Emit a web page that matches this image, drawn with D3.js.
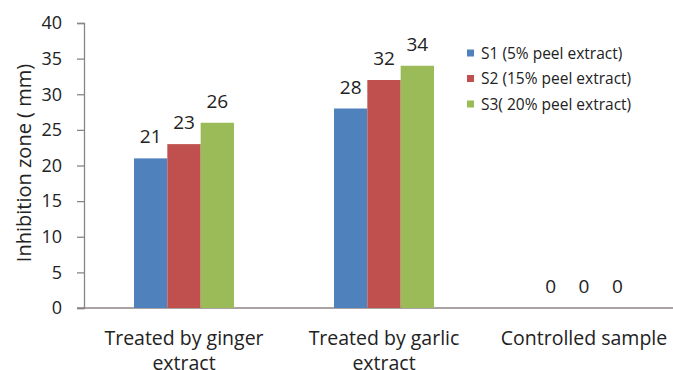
<!DOCTYPE html>
<html>
<head>
<meta charset="utf-8">
<script src="https://cdn.jsdelivr.net/npm/d3@7"></script>
<style>
  body { margin: 0; background: #fff; }
  svg { font-family: "Open Sans", "Liberation Sans", sans-serif; }
</style>
</head>
<body>
<svg width="673" height="370"></svg>
<script>
// chart data
const categories = [["Treated by ginger", "extract"], ["Treated by garlic", "extract"], ["Controlled sample"]];
const seriesNames = ["S1 (5% peel extract)", "S2 (15% peel extract)", "S3( 20% peel extract)"];
const s1 = [21, 28, 0];
const s2 = [23, 32, 0];
const s3 = [26, 34, 0];
const yTicks = [0, 5, 10, 15, 20, 25, 30, 35, 40];

const colors = ["#4F81BD", "#C0504D", "#9BBB59"];
const series = [s1, s2, s3];

var svg = d3.select("svg");
var plotLeft = 84, plotRight = 684, plotTop = 23, plotBottom = 308;

var x = d3.scaleBand().domain(d3.range(categories.length)).range([plotLeft, plotRight]);
var xs = d3.scaleBand().domain(d3.range(series.length)).range([0, 100]);
var y = d3.scaleLinear().domain([0, 40]).range([plotBottom, plotTop]);

// y axis
var yAxis = svg.append("g")
  .attr("transform", "translate(" + plotLeft + ",0)")
  .call(d3.axisLeft(y).tickValues(yTicks).tickSize(7).tickPadding(15));
yAxis.select(".domain").attr("stroke", "#8c8484").attr("stroke-width", 1.3);
yAxis.selectAll(".tick line").attr("stroke", "#8c8484").attr("stroke-width", 1.3);
yAxis.selectAll(".tick text").attr("font-size", 18).attr("fill", "#222")
  .attr("font-family", "'Open Sans', sans-serif");

// x axis line
svg.append("line")
  .attr("x1", plotLeft - 7).attr("x2", 673)
  .attr("y1", y(0)).attr("y2", y(0))
  .attr("stroke", "#8c8484").attr("stroke-width", 1.3);

// bars
var groups = svg.selectAll(".grp")
  .data(series)
  .enter()
  .append("g");

groups.selectAll("rect")
  .data((d, si) => d.map((v, ci) => ({ v, ci, si })))
  .enter()
  .append("rect")
  .attr("x", (d) => x(d.ci) + 50 + xs(d.si))
  .attr("width", xs.bandwidth())
  .attr("y", (d) => y(d.v))
  .attr("height", (d) => y(0) - y(d.v))
  .attr("fill", (d) => colors[d.si]);

groups.selectAll("text")
  .data((d, si) => d.map((v, ci) => ({ v, ci, si })))
  .enter()
  .append("text")
  .attr("x", (d) => x(d.ci) + 50 + xs(d.si) + xs.bandwidth() / 2)
  .attr("y", (d) => y(d.v) - 15)
  .attr("text-anchor", "middle")
  .attr("font-size", 19)
  .attr("fill", "#222")
  .text((d) => d.v);

// category labels
var cat = svg.selectAll(".cat")
  .data(categories)
  .enter()
  .append("text")
  .attr("text-anchor", "middle")
  .attr("font-size", 19.5)
  .attr("fill", "#222");
cat.selectAll("tspan")
  .data((d, i) => d.map((t) => ({ t, i })))
  .enter()
  .append("tspan")
  .attr("x", (d) => x(d.i) + x.bandwidth() / 2)
  .attr("y", (d, j) => 345 + j * 25)
  .text((d) => d.t);

// y label
svg.append("text")
  .attr("transform", "translate(31,163) rotate(-90)")
  .attr("text-anchor", "middle")
  .attr("font-size", 20)
  .attr("fill", "#222")
  .text("Inhibition zone ( mm)");

// legend
var leg = svg.selectAll(".leg")
  .data(seriesNames)
  .enter()
  .append("g")
  .attr("transform", (d, i) => "translate(467," + (53 + i * 25.5) + ")");
leg.append("rect")
  .attr("x", 0).attr("y", -3.5)
  .attr("width", 7).attr("height", 7)
  .attr("fill", (d, i) => colors[i]);
leg.append("text")
  .attr("x", 14).attr("y", 5.5)
  .attr("font-size", 15.5)
  .attr("fill", "#222")
  .text((d) => d);
</script>
</body>
</html>
